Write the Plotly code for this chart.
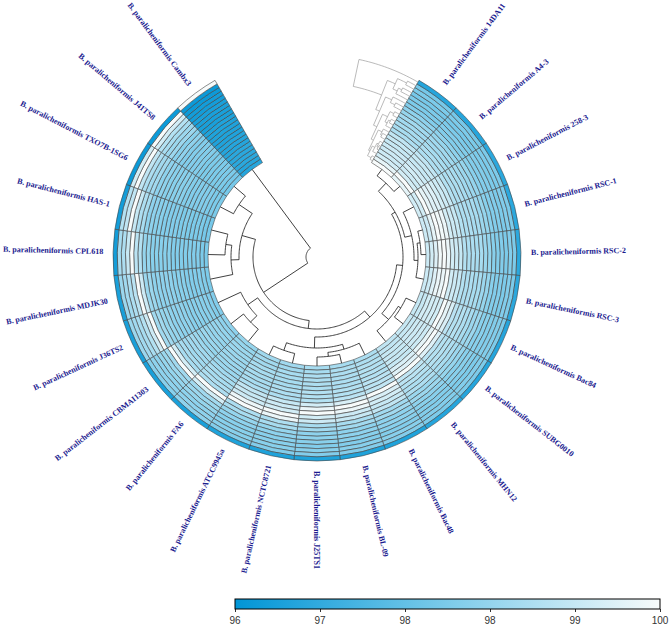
import math
import plotly.graph_objects as go

# ---------------- data ----------------
strains = ["14DA11", "A4-3", "258-3", "RSC-1", "RSC-2", "RSC-3", "Bac84", "SUBG0010",
           "MHN12", "Bac48", "BL-09", "J25TS1", "NCTC8721", "ATCC9945a", "FA6",
           "CBMAI1303", "J36TS2", "MDJK30", "CPL618", "HAS-1", "TXO7B-1SG6", "J41TS8", "Cambx3"]
labels = ["B. paralicheniformis " + s for s in strains]

# upper triangle of the ANI matrix (row i holds values for columns j > i)
ani_upper = [
    [99.7, 99.4, 99.3, 99.3, 99.3, 99.2, 99.2, 99.1, 98.8, 98.7, 98.7, 98.6, 98.6, 98.4, 98.3, 98.1, 98.0, 98.0, 97.9, 98.0, 97.9, 96.6],
    [99.4, 99.3, 99.4, 99.3, 99.2, 99.2, 99.1, 98.8, 98.8, 98.7, 98.6, 98.6, 98.4, 98.3, 98.1, 98.1, 98.0, 97.9, 98.0, 97.9, 96.6],
    [99.7, 99.6, 99.6, 99.4, 99.3, 99.2, 98.9, 98.8, 98.8, 98.7, 98.6, 98.5, 98.4, 98.2, 98.1, 98.1, 98.0, 98.0, 98.0, 96.7],
    [99.9, 99.8, 99.4, 99.3, 99.2, 98.9, 98.8, 98.8, 98.7, 98.7, 98.5, 98.4, 98.2, 98.1, 98.1, 98.0, 98.1, 98.0, 96.7],
    [99.8, 99.4, 99.3, 99.2, 98.9, 98.8, 98.8, 98.7, 98.7, 98.5, 98.4, 98.2, 98.1, 98.1, 98.0, 98.1, 98.0, 96.7],
    [99.4, 99.3, 99.2, 98.9, 98.8, 98.8, 98.7, 98.7, 98.5, 98.4, 98.2, 98.1, 98.1, 98.0, 98.1, 98.0, 96.7],
    [99.7, 99.5, 99.0, 98.9, 98.9, 98.8, 98.7, 98.5, 98.5, 98.2, 98.2, 98.1, 98.1, 98.1, 98.0, 96.6],
    [99.6, 99.0, 98.9, 98.9, 98.8, 98.7, 98.5, 98.4, 98.2, 98.2, 98.1, 98.0, 98.1, 98.0, 96.6],
    [99.1, 99.0, 98.9, 98.8, 98.8, 98.5, 98.5, 98.3, 98.2, 98.1, 98.1, 98.1, 98.0, 96.6],
    [99.5, 99.4, 99.2, 99.1, 98.6, 98.6, 98.3, 98.3, 98.2, 98.1, 98.2, 98.1, 96.5],
    [99.8, 99.3, 99.2, 98.7, 98.6, 98.3, 98.3, 98.2, 98.1, 98.2, 98.1, 96.5],
    [99.4, 99.3, 98.7, 98.6, 98.3, 98.3, 98.2, 98.1, 98.2, 98.1, 96.5],
    [99.8, 98.8, 98.7, 98.4, 98.3, 98.2, 98.2, 98.2, 98.1, 96.5],
    [98.8, 98.7, 98.4, 98.3, 98.2, 98.2, 98.2, 98.1, 96.5],
    [99.4, 98.6, 98.5, 98.4, 98.3, 98.3, 98.3, 96.4],
    [98.6, 98.5, 98.4, 98.3, 98.3, 98.2, 96.4],
    [99.3, 98.9, 98.7, 98.6, 98.5, 96.4],
    [99.0, 98.8, 98.6, 98.5, 96.4],
    [99.2, 98.8, 98.7, 96.3],
    [99.1, 98.9, 96.3],
    [99.4, 96.2],
    [96.2],
]

# dendrogram merges: (child_a, child_b, merge radius); new nodes numbered from 23
merges = [
    (0, 1, 101), (3, 4, 104), (24, 5, 101), (2, 25, 97), (23, 26, 90),
    (6, 7, 98), (28, 8, 95), (27, 29, 86), (10, 11, 100), (9, 31, 96),
    (12, 13, 99), (32, 33, 91), (30, 34, 80), (14, 15, 93), (36, 16, 84),
    (35, 37, 72), (18, 19, 92), (17, 39, 86), (20, 21, 94), (40, 41, 78),
    (38, 42, 64), (43, 22, 11),
]

cb_tickvals = [96, 96.8, 97.6, 98.4, 99.2, 100]
cb_ticktext = ["96", "97", "98", "98", "99", "100"]

# ---------------- geometry ----------------
N = len(strains)
W, H = 669, 627
CX, CY = 317, 257
RMAX = 230
R_IN, R_OUT = 109, 204
START, SPAN = 30.0, 300.0
wedge = SPAN / N
ring = (R_OUT - R_IN) / N

M = [[100.0] * N for _ in range(N)]
for i, row in enumerate(ani_upper):
    for k, v in enumerate(row):
        j = i + 1 + k
        M[i][j] = v
        M[j][i] = v

thetas, widths, bases, rs, cols = [], [], [], [], []
for i in range(N):
    for j in range(N):
        thetas.append(START + wedge * (i + 0.5))
        widths.append(wedge)
        bases.append(R_IN + ring * j)
        rs.append(ring)
        cols.append(M[i][j])

colorscale = [[0, "#0095d6"], [0.5, "#7ccbea"], [1, "#f7fbfb"]]

fig = go.Figure()
fig.add_trace(go.Barpolar(
    theta=thetas, width=widths, base=bases, r=rs,
    marker=dict(color=cols, colorscale=colorscale, cmin=96, cmax=100,
                line=dict(color="#454545", width=0.6),
                colorbar=dict(orientation="h", x=447.5 / W, xanchor="center",
                              y=1 - 599 / H, yanchor="top", len=425 / W, lenmode="fraction",
                              thickness=10, outlinecolor="black", outlinewidth=1,
                              tickvals=cb_tickvals, ticktext=cb_ticktext,
                              ticks="outside", ticklen=3, tickcolor="#333",
                              tickfont=dict(size=10, family="Liberation Sans", color="#333"),
                              xpad=0, ypad=0)),
    hoverinfo="skip", showlegend=False,
))

# ---- row dendrogram ----
leaf_theta = [START + wedge * (i + 0.5) for i in range(N)]
pos = {i: leaf_theta[i] for i in range(N)}
rad = {i: R_IN for i in range(N)}
rr, tt = [], []


def arc(r, a0, a1, rlist, tlist):
    n = max(2, int(abs(a1 - a0)) + 2)
    for k in range(n):
        rlist.append(r)
        tlist.append(a0 + (a1 - a0) * k / (n - 1))
    rlist.append(None)
    tlist.append(None)


for idx, (a, b, h) in enumerate(merges):
    node = N + idx
    for c in (a, b):
        rr += [rad[c], h, None]
        tt += [pos[c], pos[c], None]
    arc(h, pos[a], pos[b], rr, tt)
    pos[node] = (pos[a] + pos[b]) / 2
    rad[node] = h

fig.add_trace(go.Scatterpolar(r=rr, theta=tt, mode="lines",
                              line=dict(color="#2b2b2b", width=0.9),
                              hoverinfo="skip", showlegend=False))

# ---- column dendrogram (in the gap) ----
cpos = {j: R_IN + ring * (j + 0.5) for j in range(N)}
cang = {j: START for j in range(N)}
cr, ct = [], []
for idx, (a, b, h) in enumerate(merges):
    node = N + idx
    ang = START - (R_IN - h) * 18.0 / (R_IN - 11)
    for c in (a, b):
        arc(cpos[c], cang[c], ang, cr, ct)
    cr += [cpos[a], cpos[b], None]
    ct += [ang, ang, None]
    cpos[node] = (cpos[a] + cpos[b]) / 2
    cang[node] = ang

fig.add_trace(go.Scatterpolar(r=cr, theta=ct, mode="lines",
                              line=dict(color="#a8a8a8", width=0.8),
                              hoverinfo="skip", showlegend=False))

# ---- labels ----
TW = {' ': 250, '.': 250, '-': 333, 'a': 500, 'b': 556, 'c': 444, 'd': 556, 'e': 444, 'f': 333,
      'g': 500, 'h': 556, 'i': 278, 'j': 333, 'k': 556, 'l': 278, 'm': 833, 'n': 556, 'o': 500,
      'p': 556, 'q': 556, 'r': 444, 's': 389, 't': 333, 'u': 556, 'v': 500, 'w': 722, 'x': 500,
      'y': 500, 'z': 444, 'A': 722, 'B': 667, 'C': 722, 'D': 722, 'E': 667, 'F': 611, 'G': 778,
      'H': 778, 'I': 389, 'J': 500, 'K': 778, 'L': 667, 'M': 944, 'N': 722, 'O': 778, 'P': 611,
      'Q': 778, 'R': 722, 'S': 556, 'T': 667, 'U': 722, 'V': 722, 'W': 1000, 'X': 722, 'Y': 722, 'Z': 667}
FS = 8
annotations = []
for i, lab in enumerate(labels):
    th = leaf_theta[i]
    w = sum(TW.get(ch, 500) for ch in lab) * FS / 1000.0
    rc = 214 + w / 2
    x = CX + rc * math.sin(math.radians(th))
    y = CY - rc * math.cos(math.radians(th))
    if th <= 180:
        ta = th - 90
    else:
        ta = th + 90
    if ta > 180:
        ta -= 360
    annotations.append(dict(x=x / W, y=1 - y / H, xref="paper", yref="paper",
                            text="<b>" + lab + "</b>", showarrow=False, textangle=ta,
                            xanchor="center", yanchor="middle",
                            font=dict(family="Liberation Serif", size=FS, color="#1b1b8f")))

fig.update_layout(
    width=W, height=H, margin=dict(l=0, r=0, t=0, b=0),
    paper_bgcolor="white", plot_bgcolor="white", showlegend=False,
    polar=dict(domain=dict(x=[(CX - RMAX) / W, (CX + RMAX) / W],
                           y=[1 - (CY + RMAX) / H, 1 - (CY - RMAX) / H]),
               bgcolor="white", bargap=0,
               radialaxis=dict(visible=False, range=[0, RMAX]),
               angularaxis=dict(visible=False, rotation=90, direction="clockwise")),
    annotations=annotations,
)

fig.write_html("out.html")
